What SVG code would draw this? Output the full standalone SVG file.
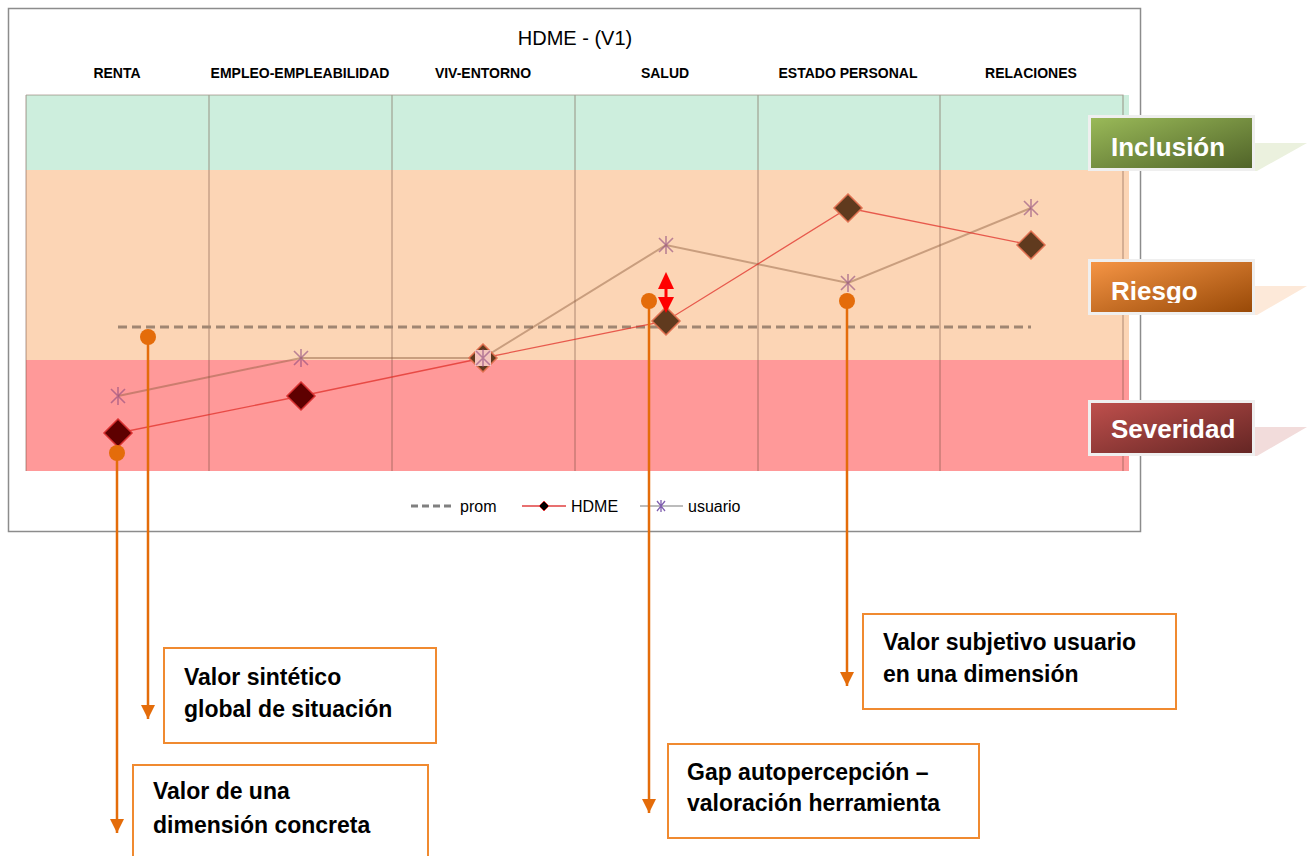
<svg xmlns="http://www.w3.org/2000/svg" xmlns:xlink="http://www.w3.org/1999/xlink" width="1312" height="856" viewBox="0 0 1312 856">
<style>
.hdr{font-family:"Liberation Sans",Arial,sans-serif;font-weight:bold;font-size:14px;fill:#000;text-anchor:middle}
.title{font-family:"Liberation Sans",Arial,sans-serif;font-size:20px;fill:#000;text-anchor:middle}
.leg{font-family:"Liberation Sans",Arial,sans-serif;font-size:16px;fill:#000}
.grid{stroke:#6b4a3a;stroke-opacity:0.45;stroke-width:1.2;fill:none}
.lbl{font-family:"Liberation Sans",Arial,sans-serif;font-weight:bold;font-size:26px;fill:#fff}
.lblbox{stroke:#efefef;stroke-width:3}
.call{fill:#fff;stroke:#f08a30;stroke-width:2}
.ctext{font-family:"Liberation Sans",Arial,sans-serif;font-weight:bold;font-size:23px;fill:#000}
.lead{stroke:#e46c0a;stroke-width:2.5;fill:none}
.dot{fill:#e46c0a}
.dia{fill:#603a1e;stroke:#e07050;stroke-width:1.5}
.dia2{fill:#5e0000;stroke:#d83030;stroke-width:1.5}
.ast{stroke:#8e4a7e;stroke-opacity:0.6;stroke-width:1.6;fill:none}
</style>
<defs>
<linearGradient id="gG" x1="0" y1="0" x2="1" y2="1"><stop offset="0" stop-color="#9bbb59"/><stop offset="1" stop-color="#4f6228"/></linearGradient>
<linearGradient id="gO" x1="0" y1="0" x2="1" y2="1"><stop offset="0" stop-color="#f79646"/><stop offset="1" stop-color="#974806"/></linearGradient>
<linearGradient id="gR" x1="0" y1="0" x2="1" y2="1"><stop offset="0" stop-color="#c0504d"/><stop offset="1" stop-color="#632523"/></linearGradient>
<marker id="arr" viewBox="0 0 14 14" refX="14" refY="7" markerWidth="14" markerHeight="14" orient="auto" markerUnits="userSpaceOnUse"><path d="M0,0 L14,7 L0,14 z" fill="#e46c0a"/></marker>
<path id="star" d="M-7,-7L7,7M-7,7L7,-7M0,-9V9"/>
<clipPath id="clipR"><rect x="1080" y="250" width="200" height="53"/></clipPath>
</defs>

<g id="chart-frame">
<rect x="8.5" y="8.5" width="1132" height="523" fill="#fff" stroke="#8c8c8c" stroke-width="1.5"/>
<text class="title" x="575" y="45">HDME - (V1)</text>
</g>

<g id="headers">
<text class="hdr" x="117" y="78">RENTA</text>
<text class="hdr" x="300" y="78">EMPLEO-EMPLEABILIDAD</text>
<text class="hdr" x="483" y="78">VIV-ENTORNO</text>
<text class="hdr" x="665" y="78">SALUD</text>
<text class="hdr" x="848" y="78">ESTADO PERSONAL</text>
<text class="hdr" x="1031" y="78">RELACIONES</text>
</g>

<g id="bands">
<rect x="26" y="95" width="1103" height="75" fill="#cdeedd"/>
<rect x="26" y="170" width="1103" height="190" fill="#fcd5b5"/>
<rect x="26" y="360" width="1103" height="111" fill="#ff9999"/>
<path class="grid" d="M26,95H1123V471 M26,95V471 M209,95V471 M392,95V471 M575,95V471 M758,95V471 M940,95V471"/>
</g>

<g id="series-prom">
<line x1="118" y1="327" x2="1031" y2="327" stroke="#a08672" stroke-width="3" stroke-dasharray="9 5"/>
</g>

<g id="series-usuario">
<polyline points="118,396 301,358 483,358 666,245 848,283 1031,208" fill="none" stroke="#8b5a3c" stroke-opacity="0.45" stroke-width="2"/>
</g>

<g id="series-hdme">
<polyline points="118,433 301,396 483,358 666,321 848,208 1031,245" fill="none" stroke="#e0302a" stroke-opacity="0.75" stroke-width="1.3"/>
<path class="dia2" d="M118,419L132,433L118,447L104,433z"/>
<path class="dia2" d="M301,382L315,396L301,410L287,396z"/>
<path class="dia" d="M483,344L497,358L483,372L469,358z"/>
<path class="dia" d="M666,307L680,321L666,335L652,321z"/>
<path class="dia" d="M848,194L862,208L848,222L834,208z"/>
<path class="dia" d="M1031,231L1045,245L1031,259L1017,245z"/>
</g>

<g id="usuario-markers">
<rect x="475" y="350" width="16" height="16" fill="#f4c4bc"/>
<use href="#star" xlink:href="#star" class="ast" x="118" y="396"/>
<use href="#star" xlink:href="#star" class="ast" x="301" y="358"/>
<use href="#star" xlink:href="#star" class="ast" x="483" y="358"/>
<use href="#star" xlink:href="#star" class="ast" x="666" y="245"/>
<use href="#star" xlink:href="#star" class="ast" x="848" y="283"/>
<use href="#star" xlink:href="#star" class="ast" x="1031" y="208"/>
</g>

<g id="legend">
<line x1="411" y1="506" x2="453" y2="506" stroke="#808080" stroke-width="3" stroke-dasharray="7 4"/>
<text class="leg" x="460" y="512">prom</text>
<line x1="522" y1="506" x2="566" y2="506" stroke="#e04040" stroke-width="1.3"/>
<path d="M544,501L549,506L544,511L539,506z" fill="#000" stroke="#e04040" stroke-width="1"/>
<text class="leg" x="571" y="512">HDME</text>
<line x1="640" y1="506" x2="683" y2="506" stroke="#a6a6a6" stroke-width="1.5"/>
<path d="M657,501L665,511M657,511L665,501M661,500V512" stroke="#8060b0" stroke-width="1.3"/>
<text class="leg" x="688" y="512">usuario</text>
</g>

<g id="label-inclusion">
<polygon points="1200,143 1307,143 1257,171 1200,171" fill="#ebf1de"/>
<rect class="lblbox" x="1089.5" y="116.5" width="164" height="53" fill="url(#gG)"/>
<text class="lbl" x="1111" y="156">Inclusión</text>
</g>

<g id="label-riesgo">
<polygon points="1200,286 1307,286 1257,315 1200,315" fill="#fde9d9"/>
<rect class="lblbox" x="1089.5" y="260.5" width="164" height="53" fill="url(#gO)"/>
<text class="lbl" x="1111" y="300" clip-path="url(#clipR)">Riesgo</text>
</g>

<g id="label-severidad">
<polygon points="1200,427 1307,427 1257,456 1200,456" fill="#f2dcdb"/>
<rect class="lblbox" x="1089.5" y="401.5" width="164" height="53" fill="url(#gR)"/>
<text class="lbl" x="1111" y="438">Severidad</text>
</g>

<g id="gap-arrow">
<polygon points="666,272 674,289 658,289" fill="#ff0000"/>
<line x1="666" y1="288" x2="666" y2="298" stroke="#ff0000" stroke-width="3"/>
<polygon points="658,297 674,297 666,313" fill="#ff0000"/>
</g>

<g id="connectors">
<line class="lead" x1="148" y1="337" x2="148" y2="719" marker-end="url(#arr)"/>
<line class="lead" x1="117" y1="453" x2="117" y2="833" marker-end="url(#arr)"/>
<line class="lead" x1="649" y1="301" x2="649" y2="813" marker-end="url(#arr)"/>
<line class="lead" x1="847" y1="301" x2="847" y2="686" marker-end="url(#arr)"/>
<circle class="dot" cx="148" cy="337" r="8"/>
<circle class="dot" cx="117" cy="453" r="8"/>
<circle class="dot" cx="649" cy="301" r="8"/>
<circle class="dot" cx="847" cy="301" r="8"/>
</g>

<g id="callout-sintetico">
<rect class="call" x="164" y="648" width="272" height="95"/>
<text class="ctext" x="184" y="685">Valor sintético</text>
<text class="ctext" x="184" y="717">global de situación</text>
</g>

<g id="callout-dimension">
<rect class="call" x="133" y="765" width="295" height="100"/>
<text class="ctext" x="153" y="799">Valor de una</text>
<text class="ctext" x="153" y="833">dimensión concreta</text>
</g>

<g id="callout-gap">
<rect class="call" x="668" y="744" width="311" height="94"/>
<text class="ctext" x="687" y="780">Gap autopercepción –</text>
<text class="ctext" x="687" y="811">valoración herramienta</text>
</g>

<g id="callout-subjetivo">
<rect class="call" x="863" y="614" width="313" height="95"/>
<text class="ctext" x="883" y="650">Valor subjetivo usuario</text>
<text class="ctext" x="883" y="682">en una dimensión</text>
</g>
</svg>
